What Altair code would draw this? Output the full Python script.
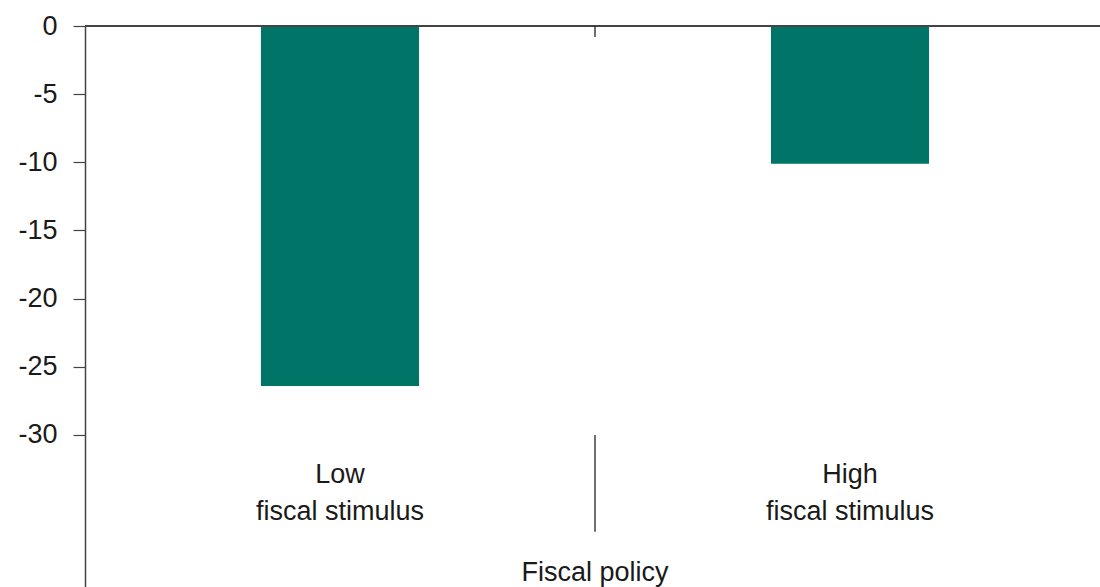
import altair as alt
import pandas as pd

categories = ["Low", "High"]
values = [-26.4, -10.1]
line1 = ["Low", "High"]
line2 = ["fiscal stimulus", "fiscal stimulus"]
y_ticks = [0, -5, -10, -15, -20, -25, -30]
axis_title = "Fiscal policy"

FONT = "Liberation Sans"
TEXT = "#1a1a1a"
LINE = "#444444"

bars_df = pd.DataFrame({"cat": categories, "val": values})
lab_df = pd.DataFrame({"cat": categories, "l1": line1, "l2": line2,
                       "y1": [-32.95] * 2, "y2": [-35.65] * 2})
div_df = pd.DataFrame({"cat": ["High", "High"], "a": [0, -30], "b": [-0.8, -37.1]})
title_df = pd.DataFrame({"cat": ["High"], "t": [axis_title], "y": [-40.1]})
zero_df = pd.DataFrame({"z": [0]})

xs = alt.Scale(domain=categories, paddingInner=0, paddingOuter=0, range=[0, 1020])
ys = alt.Scale(domain=[-41.15, 0], nice=False, zero=False)

yaxis = alt.Axis(values=y_ticks, title=None, grid=False, labelFontSize=27,
                 labelFont=FONT, labelColor=TEXT, tickSize=12, tickColor=LINE,
                 labelExpr="toString(datum.value)",
                 domainColor=LINE, domainWidth=1.5, tickWidth=1.2, labelPadding=16)

bars = alt.Chart(bars_df).mark_bar(color="#007466", width={"band": 0.31}).encode(
    x=alt.X("cat:N", scale=xs, axis=None, sort=categories),
    y=alt.Y("val:Q", scale=ys, axis=yaxis),
    y2=alt.datum(0),
)

zero = alt.Chart(zero_df).mark_rule(color=LINE, strokeWidth=2).encode(
    y=alt.Y("z:Q", scale=ys)
)

divs = alt.Chart(div_df).mark_rule(color="#222222", strokeWidth=1.3).encode(
    x=alt.X("cat:N", scale=xs, sort=categories, bandPosition=0),
    y=alt.Y("a:Q", scale=ys),
    y2="b:Q",
)

t1 = alt.Chart(lab_df).mark_text(fontSize=27, font=FONT, color=TEXT, baseline="middle").encode(
    x=alt.X("cat:N", scale=xs, sort=categories), y=alt.Y("y1:Q", scale=ys), text="l1:N"
)
t2 = alt.Chart(lab_df).mark_text(fontSize=27, font=FONT, color=TEXT, baseline="middle").encode(
    x=alt.X("cat:N", scale=xs, sort=categories), y=alt.Y("y2:Q", scale=ys), text="l2:N"
)
tt = alt.Chart(title_df).mark_text(fontSize=27, font=FONT, color=TEXT, baseline="middle").encode(
    x=alt.X("cat:N", scale=xs, sort=categories, bandPosition=0), y=alt.Y("y:Q", scale=ys), text="t:N"
)

chart = alt.layer(bars, zero, divs, t1, t2, tt).properties(
    width=1015, height=561,
    autosize=alt.AutoSizeParams(type="none"),
    padding={"left": 85, "top": 26, "right": 0, "bottom": 0},
).configure_view(stroke=None).configure(background="white")

chart.save("out.html", embed_options={"renderer": "svg", "actions": False})
